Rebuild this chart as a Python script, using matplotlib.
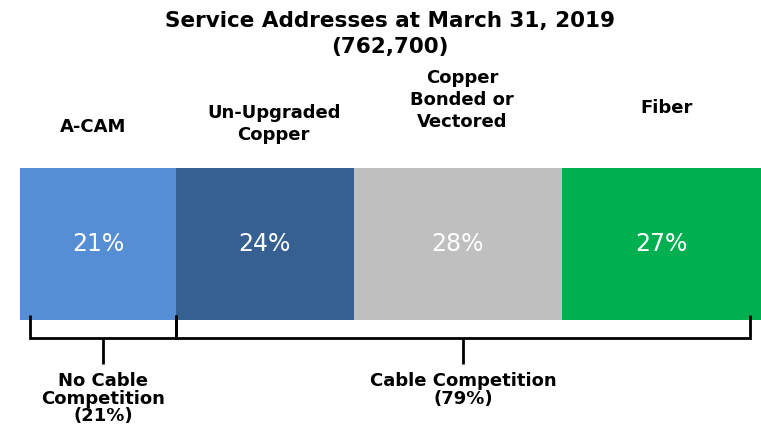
import matplotlib
matplotlib.use("Agg")
import matplotlib.pyplot as plt
import numpy as np

categories = ["A-CAM", "Un-Upgraded\nCopper", "Copper\nBonded or\nVectored", "Fiber"]
shares = [21, 24, 28, 27]
pct_labels = ["21%", "24%", "28%", "27%"]
colors = ["#558ED5", "#376092", "#BFBFBF", "#00B050"]
title = "Service Addresses at March 31, 2019\n(762,700)"
group_labels = ["No Cable\nCompetition\n(21%)", "Cable Competition\n(79%)"]
group_ranges = [(1.35, 21), (21, 98.4)]

W, H = 761, 428
fig = plt.figure(figsize=(W / 100, H / 100), dpi=100)
ax = fig.add_axes([20 / W, 0, 742 / W, 1])
ax.set_xlim(0, 100)
ax.set_ylim(H, 0)
ax.axis("off")

lefts = np.concatenate([[0], np.cumsum(shares)[:-1]])
ax.barh(244, shares, left=lefts, height=152, color=colors, edgecolor="none")

bold = dict(fontfamily="DejaVu Sans", fontweight="bold", color="black")
label_y = [127, 124, 100, 108]
label_dx = [-0.7, 1.2, 0.6, 0.7]
for l, s, p, cat, ly, dx in zip(lefts, shares, pct_labels, categories, label_y, label_dx):
    cx = l + s / 2
    ax.text(cx, 244, p, ha="center", va="center", color="white", fontsize=17,
            fontfamily="DejaVu Sans")
    ax.text(cx + dx, ly, cat, ha="center", va="center", fontsize=13,
            linespacing=1.3, **bold)

fig.text(390 / W, 1 - 34 / H, title, ha="center", va="center", fontsize=15.5,
         linespacing=1.4, **bold)

# brackets
lw = 2
y_top, y_bar, y_stem = 315, 338, 364
for (a, b), gl in zip(group_ranges, group_labels):
    ax.plot([a, a, b, b], [y_top, y_bar, y_bar, y_top], color="black", lw=lw,
            solid_joinstyle="miter", solid_capstyle="butt")
    m = (a + b) / 2
    ax.plot([m, m], [y_bar, y_stem], color="black", lw=lw, solid_capstyle="butt")
    ax.text(m, 372, gl, ha="center", va="top", fontsize=13, linespacing=0.98, **bold)

fig.savefig("out.png", dpi=100)
